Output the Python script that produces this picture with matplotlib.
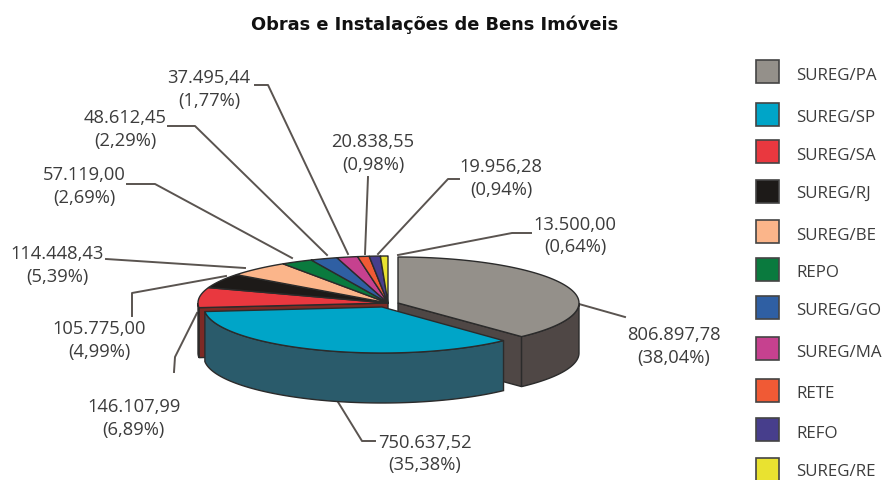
import numpy as np
import matplotlib
matplotlib.use("Agg")
import matplotlib.pyplot as plt
from matplotlib.patches import Polygon, Rectangle

names = ["SUREG/PA", "SUREG/SP", "SUREG/SA", "SUREG/RJ", "SUREG/BE", "REPO",
         "SUREG/GO", "SUREG/MA", "RETE", "REFO", "SUREG/RE"]
values = [806897.78, 750637.52, 146107.99, 105775.00, 114448.43, 57119.00,
          48612.45, 37495.44, 20838.55, 19956.28, 13500.00]
percents = [38.04, 35.38, 6.89, 4.99, 5.39, 2.69, 2.29, 1.77, 0.98, 0.94, 0.64]

colors = ["#94908a", "#00a5c8", "#e9383f", "#1d1a18", "#fbb58a", "#0a7a3e",
          "#2f5fa3", "#c6418f", "#f05a35", "#473e8c", "#e9e230"]
wall_colors = {0: "#4f4745", 1: "#2a5b6b", 2: "#7d2a24"}

# centre x, centre y, rx, ry for the three parts of the exploded pie
geom = {0: (398, 303, 181, 46), 1: (382, 307, 178, 46)}
rest = (388, 303, 190, 47)
depth = 50
EDGE = "#2b2b2b"
TXT = "#3c3c3c"
FONT = "Open Sans"

# label centres (two lines) and leader lines
label_pos = [((674, 335), (674, 358)), ((425, 443), (425, 465)),
             ((134, 407), (133, 430)), ((99.5, 329), (99, 352)),
             ((57.5, 254), (57.5, 277)), ((84, 175), (84, 198)),
             ((125, 118), (125, 141)), ((209, 78), (209, 101)),
             ((373, 142), (373, 165)), ((501, 167), (501, 190)),
             ((575, 225), (575, 247))]
leaders = [[(579, 304), (625, 317)],
           [(338, 402), (362, 441), (375, 441)],
           [(197, 313), (175, 357), (174, 372)],
           [(132, 316), (132, 293), (226, 276)],
           [(106, 259), (245, 268)],
           [(127, 184), (155, 184), (292, 258)],
           [(168, 126), (195, 126), (327, 255)],
           [(255, 85), (268, 85), (348, 254)],
           [(368, 177), (365, 254)],
           [(459, 179), (448, 179), (378, 254)],
           [(531, 233), (512, 233), (398, 255)]]
legend_y = [71.5, 114, 151.5, 191, 231, 269, 307, 348, 390, 429.5, 469]
legend_text_y = [76, 118, 156, 194, 236, 273, 311, 353, 394, 434, 472.5]


def br(v):
    return f"{v:,.2f}".replace(",", ".").rsplit(".", 1)[0] + "," + f"{v:.2f}".split(".")[1]


def arc(g, a0, a1):
    cx, cy, rx, ry = g
    t = np.radians(np.linspace(a0, a1, 80))
    return np.column_stack([cx + rx * np.sin(t), cy - ry * np.cos(t)])


def draw_top(ax, g, a0, a1, color, z):
    pts = np.vstack([[g[:2]], arc(g, a0, a1)])
    ax.add_patch(Polygon(pts, fc=color, ec=EDGE, lw=1.0, joinstyle="round", zorder=z))


def draw_wall(ax, g, a0, a1, color, z):
    top = arc(g, a0, a1)
    pts = np.vstack([top, top[::-1] + [0, depth]])
    ax.add_patch(Polygon(pts, fc=color, ec=EDGE, lw=1.0, zorder=z))


def draw_face(ax, g, a, color, z):
    p = arc(g, a, a)[0]
    c = np.array(g[:2], dtype=float)
    pts = [c, p, p + [0, depth], c + [0, depth]]
    ax.add_patch(Polygon(pts, fc=color, ec=EDGE, lw=1.0, zorder=z))


fig = plt.figure(figsize=(8.84, 4.8), dpi=100)
ax = fig.add_axes([0, 0, 1, 1])
ax.set_xlim(0, 884)
ax.set_ylim(480, 0)
ax.axis("off")

edges = np.concatenate([[0], np.cumsum(percents)]) * 3.6

for pts in leaders:
    xs, ys = zip(*pts)
    ax.plot(xs, ys, color="#5a5450", lw=1.4, zorder=1)

# PA slice
g = geom[0]
draw_face(ax, g, edges[1], wall_colors[0], 2)
draw_wall(ax, g, 90, edges[1], wall_colors[0], 3)
draw_top(ax, g, edges[0], edges[1], colors[0], 4)

# the small slices stay together
draw_face(ax, rest, edges[2], wall_colors[2], 2)
draw_wall(ax, rest, edges[2], 270, wall_colors[2], 3)
for i in range(2, len(values)):
    draw_top(ax, rest, edges[i], edges[i + 1], colors[i], 4)

# SP slice on top of everything
g = geom[1]
draw_wall(ax, g, edges[1], edges[2], wall_colors[1], 6)
draw_top(ax, g, edges[1], edges[2], colors[1], 7)

ax.text(434.5, 25, "Obras e Instalações de Bens Imóveis", ha="center", va="center",
        fontsize=12.75, fontweight="bold", family="DejaVu Sans", color="#111111")

for v, p, pos in zip(values, percents, label_pos):
    ax.text(pos[0][0], pos[0][1], br(v), ha="center", va="center", fontsize=13.2, family=FONT, color=TXT)
    pct = f"({p:.2f}%)".replace(".", ",")
    ax.text(pos[1][0], pos[1][1], pct, ha="center", va="center", fontsize=13.2, family=FONT, color=TXT)

for n, c, y, ty in zip(names, colors, legend_y, legend_text_y):
    ax.add_patch(Rectangle((755.5, y - 11.5), 23, 23, fc=c, ec="#444444", lw=1.2))
    ax.text(796, ty, n, ha="left", va="center", fontsize=12.2, family=FONT, color=TXT)

fig.savefig("out.png", dpi=100)
